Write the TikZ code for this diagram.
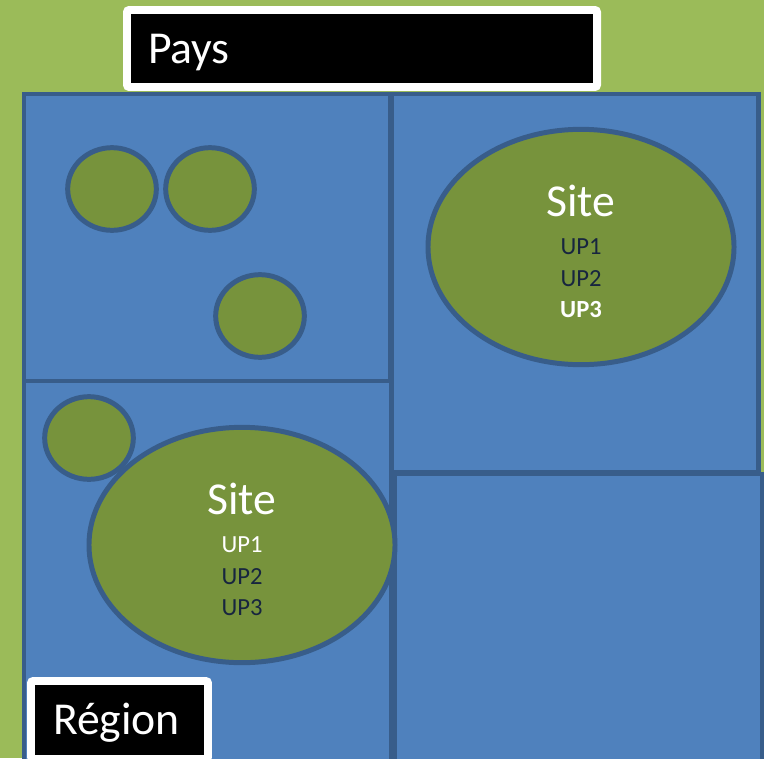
\documentclass[tikz,border=0pt]{standalone}
\usepackage{fontspec}
\setmainfont{Carlito}
\usetikzlibrary{shapes.geometric}
\definecolor{mapGreen}{HTML}{9BBB59}
\definecolor{mapBlue}{HTML}{4F81BD}
\definecolor{mapEdge}{HTML}{385D8A}
\definecolor{siteFill}{HTML}{77933C}
\definecolor{siteInk}{HTML}{17253F}
\tikzset{
  zoneBox/.style={
    rectangle,
    draw=mapEdge,
    fill=mapBlue,
    line width=4.25pt,
    inner sep=0pt
  },
  siteBlob/.style={
    ellipse,
    draw=mapEdge,
    fill=siteFill,
    line width=4.25pt,
    inner sep=0pt
  },
  smallSite/.style={siteBlob, minimum width=2.66cm, minimum height=2.48cm},
  bigSite/.style={siteBlob, minimum width=9.18cm, minimum height=7.06cm},
  tagBox/.style={
    draw=white,
    fill=black,
    line width=6.8pt,
    rounded corners=2pt,
    text=white,
    font=\fontsize{39}{44}\selectfont,
    text height=25pt,
    text depth=0pt,
    anchor=north west,
    align=left,
    inner ysep=0pt,
    outer sep=0pt
  },
  siteTitle/.style={font=\fontsize{39}{44}\selectfont, text=white, anchor=base, inner sep=0pt},
  upLabel/.style={font=\fontsize{21}{25}\selectfont, text=siteInk, anchor=base, inner sep=0pt}
}

\begin{document}
\begin{tikzpicture}[x=0.03cm,y=-0.03cm]
  \useasboundingbox (0,0) rectangle (764,758);
  \clip (0,0) rectangle (764,758);
  \fill[mapGreen] (0,0) rectangle (764,758);

  % regions
  \node[zoneBox, minimum width=10.98cm, minimum height=8.61cm]  (zoneNW) at (207,237.5) {};
  \node[zoneBox, minimum width=11.01cm, minimum height=11.43cm] (zoneSW) at (207.5,571.5) {};
  \node[zoneBox, minimum width=10.98cm, minimum height=11.34cm] (zoneNE) at (575,283) {};
  \node[zoneBox, minimum width=11.01cm, minimum height=8.64cm]  (zoneSE) at (578.5,618) {};

  % sites
  \node[smallSite] (siteA) at (112,189) {};
  \node[smallSite] (siteB) at (210,189) {};
  \node[smallSite] (siteC) at (260,316) {};
  \node[smallSite] (siteD) at (89,438) {};
  \node[bigSite]   (siteSW) at (242,545) {};
  \node[bigSite]   (siteNE) at (581,247) {};

  \node[siteTitle] (titleNE) at ([shift={(0,-31)}]siteNE.center) {Site};
  \node[upLabel] (upNEa) at ([shift={(0,7)}]siteNE.center) {UP1};
  \node[upLabel] (upNEb) at ([shift={(0,39)}]siteNE.center) {UP2};
  \node[upLabel, text=white, font=\fontsize{21}{25}\selectfont\bfseries]
    (upNEc) at ([shift={(0,70)}]siteNE.center) {UP3};

  \node[siteTitle] (titleSW) at ([shift={(0,-31)}]siteSW.center) {Site};
  \node[upLabel, text=white] (upSWa) at ([shift={(0,7)}]siteSW.center) {UP1};
  \node[upLabel] (upSWb) at ([shift={(0,39)}]siteSW.center) {UP2};
  \node[upLabel] (upSWc) at ([shift={(0,70)}]siteSW.center) {UP3};

  % labels
  \node[tagBox, text width=12.84cm, inner xsep=0.63cm, minimum height=2.31cm]
    (pays) at (127,10) {Pays};
  \node[tagBox, text width=3.99cm, inner xsep=0.66cm, minimum height=2.34cm]
    (region) at (31,681) {Région};
\end{tikzpicture}
\end{document}
